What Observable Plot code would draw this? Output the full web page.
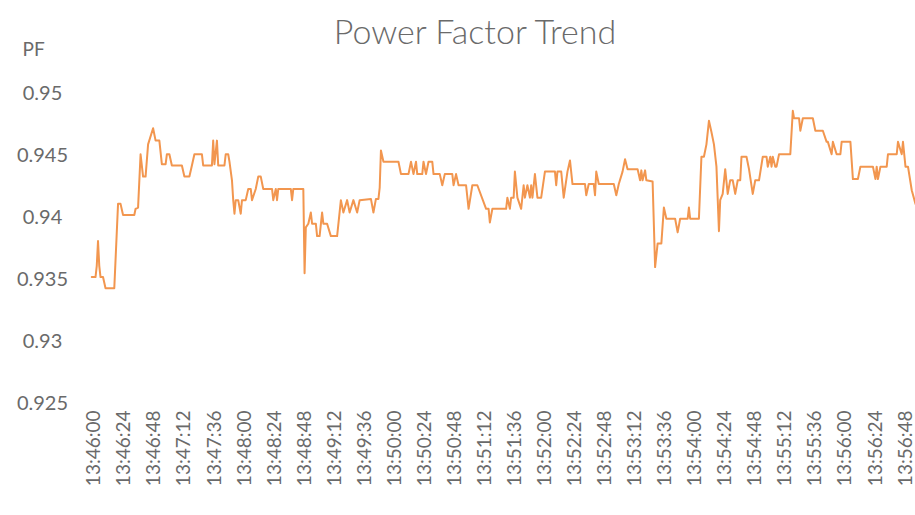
<!DOCTYPE html>
<html>
<head>
<meta charset="utf-8">
<script src="https://cdn.jsdelivr.net/npm/d3@7"></script>
<script src="https://cdn.jsdelivr.net/npm/@observablehq/plot@0.6"></script>
<style>
  html, body { margin: 0; padding: 0; background: #ffffff; }
  #chart { width: 915px; height: 515px; }
</style>
</head>
<body>
<div id="chart"></div>
<script>
// ---- data ----
const title = "Power Factor Trend";
const yLabel = "PF";
const startTime = "13:46:00";
// seconds after 13:46:00
const seconds = [-2,1,2,3,4,5,7,9,16,19,21,23,32,33,35,37,39,41,43,47,49,52,54,57,58,60,62,70,72,76,78,80,86,87,94,95,96,98,99,104,
105,107,108,110,111,112,113,115,117,118,121,123,125,126,129,131,133,135,142,143,145,146,147,157,158,159,167,168,169,171,173,174,177,178,180,182,183,186,189,194,197,199,202,204,207,210,212,
221,223,225,227,228,229,231,243,245,251,253,255,257,258,262,263,265,267,270,271,276,278,280,286,287,289,291,297,299,302,306,313,315,316,318,
329,330,332,333,335,336,338,341,343,344,346,348,349,350,352,354,357,360,368,369,370,373,375,378,380,382,392,393,395,399,400,401,403,415,417,419,422,424,426,434,
436,437,438,440,441,446,448,450,453,455,457,464,466,468,474,475,476,483,485,487,489,491,493,495,497,499,500,502,504,506,508,510,512,514,516,517,521,523,526,528,531,534,537,538,540,541,542,544,
545,547,556,558,559,563,564,566,574,576,582,585,586,589,590,593,596,597,604,606,610,612,622,624,625,626,628,633,634,641,642,645,646,648,650,653,656];
const pf = [0.9352,0.9352,0.9361,0.9381,0.9361,0.9352,0.9352,0.9343,0.9343,0.9411,0.9411,0.9402,0.9402,0.9407,0.9408,0.9451,0.9433,0.9433,0.9459,0.9472,0.9462,0.9462,0.9443,0.9443,0.9451,0.9451,0.9442,0.9442,0.9433,0.9433,0.9442,0.9451,0.9451,0.9442,0.9442,0.9462,0.9443,0.9462,0.9442,0.9442,
0.9451,0.9451,0.9445,0.9430,0.9414,0.9403,0.9414,0.9414,0.9403,0.9414,0.9414,0.9423,0.9423,0.9414,0.9423,0.9433,0.9433,0.9423,0.9423,0.9414,0.9423,0.9414,0.9423,0.9423,0.9414,0.9423,0.9423,0.9355,0.9392,0.9395,0.9404,0.9395,0.9395,0.9385,0.9385,0.9404,0.9395,0.9395,0.9385,0.9385,0.9414,0.9404,0.9414,0.9404,0.9414,0.9404,0.9414,
0.9415,0.9404,0.9415,0.9415,0.9424,0.9454,0.9445,0.9445,0.9435,0.9435,0.9445,0.9435,0.9445,0.9435,0.9435,0.9445,0.9435,0.9445,0.9445,0.9435,0.9435,0.9426,0.9435,0.9435,0.9426,0.9435,0.9426,0.9426,0.9407,0.9426,0.9426,0.9407,0.9407,0.9396,0.9407,
0.9407,0.9416,0.9407,0.9416,0.9416,0.9437,0.9416,0.9407,0.9426,0.9416,0.9426,0.9416,0.9426,0.9416,0.9435,0.9416,0.9416,0.9437,0.9437,0.9426,0.9437,0.9437,0.9416,0.9437,0.9446,0.9427,0.9427,0.9418,0.9427,0.9427,0.9418,0.9437,0.9427,0.9427,0.9418,0.9427,0.9437,0.9447,0.9439,0.9439,
0.9430,0.9438,0.9430,0.9438,0.9430,0.9429,0.9360,0.9379,0.9379,0.9408,0.9399,0.9399,0.9388,0.9399,0.9399,0.9408,0.9399,0.9399,0.9449,0.9449,0.9459,0.9478,0.9469,0.9459,0.9441,0.9389,0.9414,0.9419,0.9439,0.9419,0.9430,0.9430,0.9419,0.9430,0.9430,0.9449,0.9449,0.9439,0.9419,0.9430,0.9430,0.9449,0.9449,0.9441,0.9449,0.9441,0.9449,0.9441,
0.9441,0.9451,0.9451,0.9486,0.9480,0.9480,0.9470,0.9480,0.9480,0.9470,0.9470,0.9461,0.9461,0.9451,0.9461,0.9451,0.9451,0.9461,0.9461,0.9431,0.9431,0.9441,0.9441,0.9431,0.9441,0.9431,0.9441,0.9441,0.9451,0.9451,0.9461,0.9451,0.9461,0.9441,0.9441,0.9422,0.9411];
const tickLabels = ["13:46:00","13:46:24","13:46:48","13:47:12","13:47:36","13:48:00","13:48:24","13:48:48","13:49:12","13:49:36",
"13:50:00","13:50:24","13:50:48","13:51:12","13:51:36","13:52:00","13:52:24","13:52:48","13:53:12","13:53:36",
"13:54:00","13:54:24","13:54:48","13:55:12","13:55:36","13:56:00","13:56:24","13:56:48"];
const yTicks = [0.925, 0.93, 0.935, 0.94, 0.945, 0.95];

// ---- build ----
const parseT = str => { const [h, m, s] = str.split(":").map(Number); return new Date(Date.UTC(2000, 0, 1, h, m, s)); };
const base = parseT(startTime).getTime();
const toDate = s => new Date(base + s * 1000);
const data = seconds.map((s, i) => ({time: toDate(s), pf: pf[i]}));
const xTicks = tickLabels.map(parseT);

const chart = Plot.plot({
  width: 915,
  height: 515,
  marginLeft: 90,
  marginRight: 0,
  marginTop: 93,
  marginBottom: 112,
  style: {fontFamily: "Lato, 'Open Sans', sans-serif", color: "#6a6a6a", background: "#ffffff", overflow: "visible"},
  x: {type: "utc", domain: [toDate(-3), toDate(656)]},
  y: {domain: [0.925, 0.95]},
  marks: [
    Plot.axisX({ticks: xTicks, tickFormat: d3.utcFormat("%H:%M:%S"), tickRotate: -90, tickSize: 0, tickPadding: 7, fontSize: 19, label: null}),
    Plot.axisY({ticks: yTicks, tickFormat: d => String(d), tickSize: 0, tickPadding: 48, textAnchor: "middle", fontSize: 20, label: null}),
    Plot.line(data, {x: "time", y: "pf", stroke: "#F2964F", strokeWidth: 2, strokeLinejoin: "round"}),
    Plot.text([title], {frameAnchor: "top", dx: -28, dy: -50, lineAnchor: "bottom", fontSize: 34, fontWeight: 300}),
    Plot.text([yLabel], {frameAnchor: "top-left", dx: -68, dy: -38, lineAnchor: "bottom", fontSize: 19})
  ]
});
document.getElementById("chart").appendChild(chart);
</script>
</body>
</html>
